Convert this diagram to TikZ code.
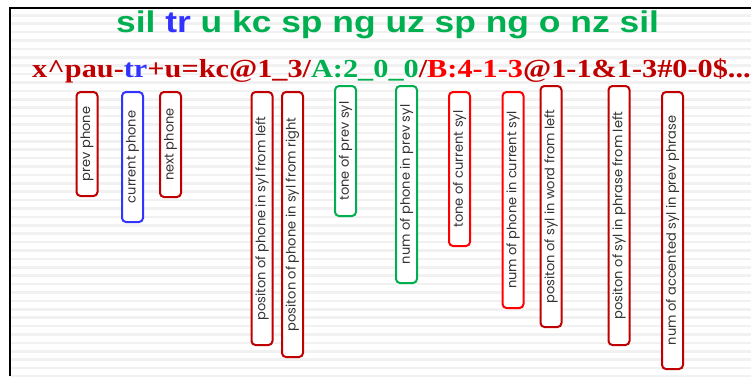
\documentclass[tikz,border=0pt]{standalone}
\usepackage{fontspec}
\setmainfont{Liberation Serif}
\newfontfamily\titlefont{Liberation Sans}
\newfontfamily\labelfont{Poppins}
\definecolor{dred}{HTML}{C00000}
\definecolor{bred}{HTML}{FF0000}
\definecolor{mblue}{HTML}{3333FF}
\definecolor{mgreen}{HTML}{00B050}
\definecolor{stripe}{HTML}{F1F1F1}
\tikzset{
  lab/.style={draw=#1, line width=2pt, rounded corners=4pt, fill=white, rotate=90,
    inner sep=0pt, minimum height=21pt, font=\labelfont\fontsize{13}{13}\selectfont, text=black!80},
}
\begin{document}
\begin{tikzpicture}[x=1pt,y=-1pt]
\useasboundingbox (0,0) rectangle (751,376);
\fill[white] (0,0) rectangle (751,376);
\foreach \k in {0,...,43} {
  \fill[stripe] (10,{14+8.4*\k}) rectangle (751,{16.5+8.4*\k});
}
\draw[line width=2pt] (10,376) -- (10,8) -- (751,8);
\node[font=\titlefont\bfseries\fontsize{30}{30}\selectfont, text=mgreen, xscale=1.18, anchor=base, inner sep=0pt] (title) at (387.5,32)
  {sil \textcolor{mblue}{tr} u kc sp ng uz sp ng o nz sil};
\node[font=\bfseries\fontsize{26}{26}\selectfont, text=dred, xscale=1.165, anchor=base west, inner sep=0pt] (label) at (32,77)
  {x\textasciicircum pau-\textcolor{mblue}{tr}+u=kc@1\_3/\textcolor{mgreen}{A:2\_0\_0}/\textcolor{bred}{B:4-1-3}@1-1\&1-3\#0-0\$...};
\node[lab=dred, minimum width=104pt] (b1) at (87,144) {prev phone};
\node[lab=mblue, minimum width=130pt] (b2) at (132.5,157) {current phone};
\node[lab=dred, minimum width=105pt] (b3) at (170.5,144.5) {next phone};
\node[lab=dred, minimum width=253pt] (b4) at (262,218.5) {positon of phone in syl from left};
\node[lab=dred, minimum width=265pt] (b5) at (292.5,224.5) {positon of phone in syl from right};
\node[lab=mgreen, minimum width=130pt] (b6) at (345.5,151) {tone of prev syl};
\node[lab=mgreen, minimum width=197pt] (b7) at (406.5,184.5) {num of phone in prev syl};
\node[lab=bred, minimum width=154pt] (b8) at (459.5,169) {tone of current syl};
\node[lab=bred, minimum width=216pt] (b9) at (513,200) {num of phone in current syl};
\node[lab=dred, minimum width=241pt] (b10) at (551,206.5) {positon of syl in word from left};
\node[lab=dred, minimum width=259pt] (b11) at (619,215.5) {positon of syl in phrase from left};
\node[lab=dred, minimum width=277pt] (b12) at (672.5,230.5) {num of accented syl in prev phrase};
\end{tikzpicture}
\end{document}
